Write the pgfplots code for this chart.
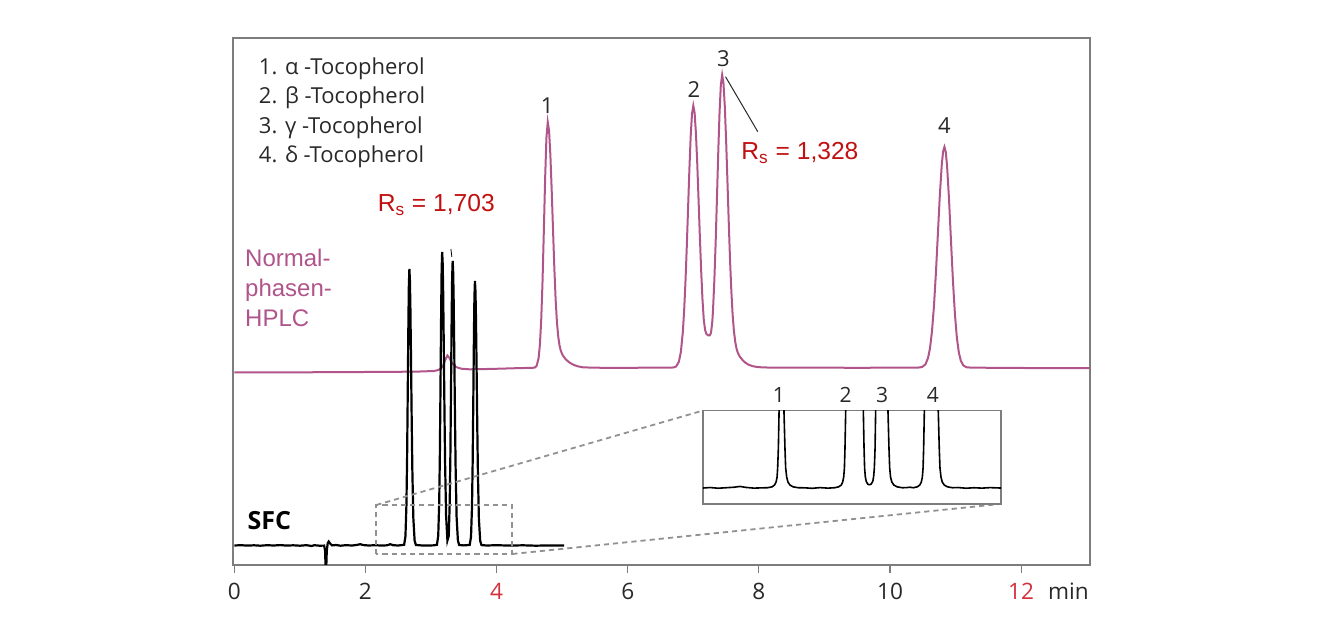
\documentclass[border=0pt]{standalone}
\usepackage{fontspec}
\setmainfont{Open Sans}
\newfontfamily\arialfont{Liberation Sans}
\usepackage{pgfplots}
\pgfplotsset{compat=1.18}

\definecolor{hplc}{RGB}{176,84,138}
\definecolor{rsred}{RGB}{192,16,16}
\definecolor{tickred}{RGB}{212,48,60}
\definecolor{boxgray}{RGB}{125,125,125}
\definecolor{dashgray}{RGB}{145,145,145}
\definecolor{labgray}{RGB}{40,40,40}

\begin{document}
\begin{tikzpicture}
\useasboundingbox (-116.5pt,-35.5pt) rectangle (543.5pt,282.5pt);

% ---------------- main chromatogram ----------------
\begin{axis}[
  name=main, at={(0pt,0pt)}, anchor=south west,
  scale only axis, width=428.5pt, height=263.5pt,
  xmin=-0.02, xmax=13.05, ymin=0, ymax=527,
  clip mode=individual,
  axis line style={draw=boxgray, line width=0.6pt},
  ytick=\empty,
  xtick={0,2,4,6,8,10,12},
  xticklabels={0,2,\textcolor{tickred}{4},6,8,10,\textcolor{tickred}{12}},
  tick pos=left, tick align=outside,
  major tick length=4pt,
  xtick style={draw=boxgray, line width=0.6pt},
  xticklabel style={font=\fontsize{11.3}{13}\selectfont, text=labgray, anchor=base, yshift=-13.2pt},
]

% Normal-phase HPLC trace
\addplot[hplc, line width=1pt] coordinates {
 (0.00,192.5) (0.50,192.6) (1.00,192.7) (1.50,192.8) (2.00,193.0) (2.50,193.2)
 (2.80,193.4) (3.05,194.0) (3.12,195.2) (3.18,198.5) (3.22,205.5) (3.25,209.5)
 (3.28,207.0) (3.32,202.0) (3.38,198.0) (3.46,196.3) (3.58,195.7) (3.80,195.9)
 (4.05,196.3) (4.30,196.8) (4.50,197.1) (4.58,197.3)
 (4.61,199.1) (4.64,206.6) (4.66,219.8) (4.68,244.0) (4.70,282.4) (4.72,332.8)
 (4.74,385.9) (4.76,427.3) (4.78,443.0) (4.80,434.4) (4.82,410.3) (4.84,375.6)
 (4.86,336.2) (4.88,298.1) (4.90,266.0) (4.92,243.0) (4.94,228.5) (4.96,219.5)
 (4.98,214.0) (5.01,209.5) (5.05,206.0) (5.10,203.0) (5.16,200.6) (5.23,198.8)
 (5.32,197.6) (5.60,197.2)
 (6.00,197.2) (6.40,197.3) (6.70,197.5)
 (6.74,198.6) (6.78,203.3) (6.81,212.9) (6.84,232.7) (6.86,253.9) (6.88,282.4)
 (6.90,317.3) (6.92,356.2) (6.94,395.1) (6.96,428.5) (6.98,451.2) (7.00,459.3)
 (7.02,452.2) (7.04,431.8) (7.06,401.7) (7.08,365.5) (7.10,328.4) (7.12,294.3)
 (7.14,265.5) (7.16,245.0) (7.18,235.0) (7.20,231.0) (7.23,229.5) (7.25,229.5)
 (7.27,232.0) (7.29,243.6) (7.30,254.2) (7.32,283.2) (7.34,320.9) (7.36,365.5)
 (7.38,411.6) (7.40,452.1) (7.42,480.1) (7.44,490.0) (7.46,481.9) (7.48,459.0)
 (7.50,425.4) (7.52,385.1) (7.54,343.8) (7.56,305.5) (7.58,274.0) (7.60,250.0)
 (7.62,233.5) (7.64,223.0) (7.66,216.2) (7.68,212.0) (7.71,208.3) (7.75,205.0)
 (7.79,202.5) (7.84,200.4) (7.90,198.9) (7.97,198.0) (8.08,197.5) (8.50,197.4)
 (9.00,197.3) (9.50,197.2) (10.00,197.3) (10.43,197.4)
 (10.49,198.0) (10.54,200.6) (10.58,207.0) (10.61,216.9) (10.64,233.6) (10.67,258.7)
 (10.70,292.1) (10.73,331.2) (10.76,370.1) (10.79,401.0) (10.81,413.6) (10.83,418.0)
 (10.85,413.1) (10.87,399.2) (10.90,365.5) (10.93,324.1) (10.96,283.8) (10.99,250.7)
 (11.02,227.1) (11.05,212.4) (11.08,204.2) (11.12,199.4) (11.17,197.7) (11.25,197.3)
 (11.60,197.2) (12.00,197.0) (12.50,196.9) (13.05,196.8)
};

% SFC trace
\addplot[black, line width=1.1pt] coordinates {
 (0.00,19.5) (0.10,19.8) (0.20,19.4) (0.30,19.7) (0.40,19.3) (0.50,19.8)
 (0.60,19.5) (0.70,19.9) (0.80,19.4) (0.90,19.7) (1.00,19.3) (1.10,19.8)
 (1.18,19.0) (1.22,19.8) (1.30,19.3) (1.37,19.4) (1.385,14.0) (1.392,-3.0)
 (1.402,-3.0) (1.41,14.0) (1.425,22.0) (1.44,23.5) (1.46,21.5) (1.49,19.6)
 (1.55,20.0) (1.62,19.3) (1.70,19.8) (1.80,19.5) (1.88,20.2) (1.92,20.8)
 (1.97,19.9) (2.05,19.5) (2.15,19.8) (2.25,19.4) (2.33,19.7) (2.38,20.8)
 (2.42,19.8) (2.50,19.5) (2.59,20.2)
 (2.61,28.7) (2.625,60.3) (2.635,106.3) (2.645,172.7) (2.655,242.9) (2.662,279.7)
 (2.67,296.0) (2.678,284.9) (2.685,258.9) (2.695,205.0) (2.705,146.1) (2.715,95.5)
 (2.73,47.3) (2.75,24.2) (2.77,20.0) (2.85,19.6) (2.95,19.4) (3.05,19.7) (3.09,20.2)
 (3.11,29.3) (3.125,62.8) (3.135,111.7) (3.145,182.1) (3.155,256.6) (3.162,295.7)
 (3.17,313.0) (3.178,301.3) (3.185,273.7) (3.195,216.4) (3.205,153.9) (3.215,100.2)
 (3.23,49.1) (3.25,24.5) (3.27,29.0)
 (3.285,61.5) (3.295,108.8) (3.305,177.1) (3.315,249.4) (3.322,287.2) (3.33,304.0)
 (3.338,292.6) (3.345,265.9) (3.355,210.4) (3.365,149.8) (3.375,97.7) (3.39,48.1)
 (3.41,24.3) (3.43,20.0) (3.50,19.6) (3.59,20.1)
 (3.61,28.3) (3.625,58.5) (3.635,102.6) (3.645,166.0) (3.655,233.2) (3.662,268.4)
 (3.67,284.0) (3.678,273.4) (3.685,248.6) (3.695,197.0) (3.705,140.6) (3.715,92.2)
 (3.73,46.1) (3.75,24.0) (3.77,19.9) (3.85,19.5) (4.00,19.8) (4.20,19.4)
 (4.40,19.7) (4.60,19.3) (4.80,19.6) (5.03,19.5)
};

% small mark above the third SFC peak
\draw[black, line width=0.4pt] (axis cs:3.303,316) -- (axis cs:3.318,308);

% zoom window and its connectors
\draw[dashgray, line width=0.9pt, dash pattern=on 2.6pt off 2pt]
  (axis cs:2.165,11) rectangle (axis cs:4.24,60);
\draw[dashgray, line width=0.9pt, dash pattern=on 2.6pt off 2pt]
  (axis cs:2.165,60) -- (axis cs:7.139,154.3);
\draw[dashgray, line width=0.9pt, dash pattern=on 2.6pt off 2pt]
  (axis cs:4.24,11) -- (axis cs:11.679,61);

% compound list
\node[anchor=base west, inner sep=0pt, text=labgray, font=\fontsize{11}{13}\selectfont] at (axis cs:0.37,490) {1. α -Tocopherol};
\node[anchor=base west, inner sep=0pt, text=labgray, font=\fontsize{11}{13}\selectfont] at (axis cs:0.37,461) {2. β -Tocopherol};
\node[anchor=base west, inner sep=0pt, text=labgray, font=\fontsize{11}{13}\selectfont] at (axis cs:0.37,431.8) {3. γ -Tocopherol};
\node[anchor=base west, inner sep=0pt, text=labgray, font=\fontsize{11}{13}\selectfont] at (axis cs:0.37,402.3) {4. δ -Tocopherol};

% peak numbers
\node[text=labgray, font=\fontsize{11}{13}\selectfont] at (axis cs:4.77,459.5) {1};
\node[text=labgray, font=\fontsize{11}{13}\selectfont] at (axis cs:7.01,475) {2};
\node[text=labgray, font=\fontsize{11}{13}\selectfont] at (axis cs:7.46,506) {3};
\node[text=labgray, font=\fontsize{11}{13}\selectfont] at (axis cs:10.83,439) {4};

% resolution annotations
\draw[labgray, line width=0.5pt] (axis cs:7.491,488.3) -- (axis cs:7.983,433.3);
\node[anchor=base west, inner sep=0pt, text=rsred, font=\arialfont\fontsize{12.3}{14}\selectfont] at (axis cs:7.728,405) {R\textsubscript{s} = 1,328};
\node[anchor=base west, inner sep=0pt, text=rsred, font=\arialfont\fontsize{12.3}{14}\selectfont] at (axis cs:2.182,353.3) {R\textsubscript{s} = 1,703};

% trace names
\node[anchor=base west, inner sep=0pt, text=hplc, font=\arialfont\fontsize{12}{14}\selectfont] at (axis cs:0.16,298.3) {Normal-};
\node[anchor=base west, inner sep=0pt, text=hplc, font=\arialfont\fontsize{12}{14}\selectfont] at (axis cs:0.16,268.3) {phasen-};
\node[anchor=base west, inner sep=0pt, text=hplc, font=\arialfont\fontsize{12}{14}\selectfont] at (axis cs:0.16,238.3) {HPLC};
\node[anchor=base west, inner sep=0pt, text=black, font=\bfseries\fontsize{12.5}{14}\selectfont] at (axis cs:0.195,35) {SFC};

% unit
\node[anchor=base, text=labgray, font=\fontsize{11.3}{13}\selectfont] at (axis cs:12.72,-34.3) {min};
\end{axis}

% ---------------- enlarged SFC window ----------------
\begin{axis}[
  name=inset, at={(235pt,30.5pt)}, anchor=south west,
  scale only axis, width=149pt, height=46.65pt,
  xmin=2.16, xmax=4.24, ymin=0, ymax=93.5,
  clip mode=individual,
  axis line style={draw=boxgray, line width=0.6pt},
  xtick=\empty, ytick=\empty,
]
\addplot[black, line width=0.8pt] coordinates {
 (2.160,16.0) (2.209,16.5) (2.265,15.8) (2.321,16.3) (2.376,16.8) (2.418,17.6)
 (2.460,16.6) (2.516,15.9) (2.572,16.2) (2.610,16.3) (2.642,17.2) (2.659,19.0)
 (2.670,22.0) (2.677,27.0) (2.681,36.0) (2.686,56.0) (2.691,93.5) (2.697,176)
 (2.708,316) (2.725,93.5) (2.732,56) (2.737,36) (2.744,27) (2.753,22) (2.767,19)
 (2.789,17.2) (2.825,16.3) (2.872,16.2) (2.921,15.7) (2.977,16.4) (3.032,15.9)
 (3.079,16.3) (3.107,17.2) (3.125,19) (3.135,22) (3.142,27) (3.147,36) (3.151,56)
 (3.156,93.5) (3.165,166) (3.217,316) (3.270,166) (3.279,93.5) (3.284,56)
 (3.288,36) (3.293,27) (3.300,22.4) (3.310,19.9) (3.319,19.3) (3.326,19.5)
 (3.334,20) (3.345,22.7) (3.351,27.5) (3.356,36.3) (3.361,56) (3.365,93.5)
 (3.374,166) (3.408,316) (3.442,166) (3.451,93.5) (3.458,56) (3.463,36) (3.469,27)
 (3.478,22) (3.492,19) (3.515,17.2) (3.551,16.3) (3.577,16.4) (3.605,16.8)
 (3.628,16.3) (3.656,17.2) (3.673,19) (3.684,22) (3.691,27) (3.696,36) (3.700,56)
 (3.705,93.5) (3.714,166) (3.754,316) (3.793,166) (3.802,93.5) (3.809,56)
 (3.814,36) (3.821,27) (3.830,22) (3.844,19) (3.866,17.2) (3.902,16.3) (3.940,16.5)
 (3.996,15.8) (4.052,16.3) (4.107,15.9) (4.163,16.4) (4.240,16.0)
};
\node[text=labgray, font=\fontsize{10.5}{12}\selectfont] at (axis cs:2.69,109) {1};
\node[text=labgray, font=\fontsize{10.5}{12}\selectfont] at (axis cs:3.156,109) {2};
\node[text=labgray, font=\fontsize{10.5}{12}\selectfont] at (axis cs:3.41,109) {3};
\node[text=labgray, font=\fontsize{10.5}{12}\selectfont] at (axis cs:3.765,109) {4};
\end{axis}
\end{tikzpicture}
\end{document}
